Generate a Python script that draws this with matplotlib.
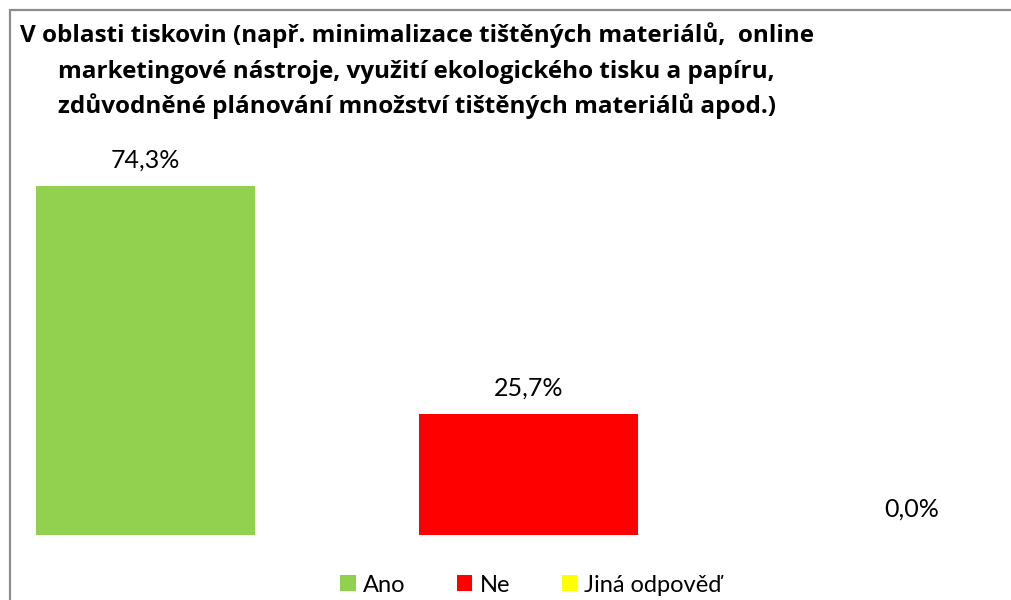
import matplotlib.pyplot as plt
from matplotlib.patches import Rectangle, Patch

categories = ["Ano", "Ne", "Jiná odpověď"]
values = [74.3, 25.7, 0.0]
colors = ["#92d050", "#ff0000", "#ffff00"]
title_lines = [
    "V oblasti tiskovin (např. minimalizace tištěných materiálů,  online",
    "marketingové nástroje, využití ekologického tisku a papíru,",
    "zdůvodněné plánování množství tištěných materiálů apod.)",
]

plt.rcParams["font.family"] = ["Lato", "DejaVu Sans"]

W, H = 1011, 600
fig = plt.figure(figsize=(W / 100, H / 100), dpi=100)

# plot area: baseline at y=535 px, bar centres 383 px apart starting at x=145.5
base_px = 535
ax = fig.add_axes([0, (H - base_px) / H, 1, base_px / H])
px_per_cat = 383
px_per_pct = (base_px - 186) / 74.3
ax.set_xlim(-145.5 / px_per_cat, (W - 145.5) / px_per_cat)
ax.set_ylim(0, base_px / px_per_pct)
ax.axis("off")

x = range(len(categories))
ax.bar(x, values, width=219 / px_per_cat, color=colors)
for i, v in zip(x, values):
    ax.annotate(f"{v:.1f}%".replace(".", ","), (i, v), xytext=(0, 19),
                textcoords="offset points", ha="center", va="center",
                fontsize=18, color="#000000")

# frame (cut off on right and bottom)
fig.patches.append(Rectangle((9.5 / W, -0.1), 1.2, 1 - 9.5 / H + 0.1,
                             transform=fig.transFigure, fill=False,
                             edgecolor="#8c8c8c", linewidth=1.6))

for k, line in enumerate(title_lines):
    fig.text(416.5 / W, 1 - (42 + 35.5 * k) / H, line, ha="center",
             va="baseline", fontsize=17.5, fontweight="bold",
             family=["Open Sans", "DejaVu Sans"])

handles = [Patch(facecolor=c, edgecolor="none") for c in colors]
fig.legend(handles, categories, ncol=3, loc="center",
           bbox_to_anchor=(531 / W, 1 - 585 / H), frameon=False,
           fontsize=17, handlelength=0.65, handleheight=0.65,
           handletextpad=0.3, columnspacing=2.2)

fig.savefig("out.png", dpi=100)
